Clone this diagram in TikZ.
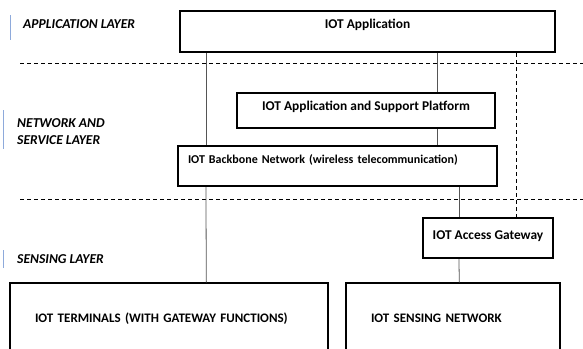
\documentclass[tikz,border=0pt]{standalone}
\usepackage{fontspec}
\setmainfont{Carlito}
\definecolor{barblue}{HTML}{8EAADB}
\definecolor{linkgray}{HTML}{555555}
\tikzset{
  box/.style={draw, line width=2.2pt, fill=white, inner sep=0pt, font=\bfseries\fontsize{13.4}{15}\selectfont},
  thinbox/.style={draw, line width=1.3pt, fill=white, inner sep=0pt, font=\bfseries\fontsize{13}{15}\selectfont},
  layer/.style={inner sep=0pt, anchor=base west, align=left, font=\bfseries\itshape\fontsize{13.6}{17}\selectfont},
  link/.style={linkgray, line width=0.8pt},
  sep/.style={black, line width=0.6pt, dash pattern=on 4pt off 3pt},
}
\begin{document}
\begin{tikzpicture}[x=1pt,y=-1pt]
  \useasboundingbox (0,0) rectangle (583,348);
  \clip (0,0) rectangle (583,348);

  % layer separators
  \draw[sep] (20,63) -- (583,63);
  \draw[sep] (20,199) -- (583,199);

  % layer names
  \draw[barblue, line width=1pt] (10,15) -- (10,40);
  \draw[barblue, line width=1pt] (3,110) -- (3,149);
  \draw[barblue, line width=1pt] (3,250) -- (3,268);
  \node[layer] (lapp) at (23,28) {APPLICATION LAYER};
  \node[layer] (lnet) at (17,144) {NETWORK AND\\SERVICE LAYER};
  \node[layer] (lsense) at (17,263) {SENSING LAYER};

  % boxes
  \node[box, minimum width=375pt, text height=17pt, text depth=24pt] (app) at (367.5,31.5) {IOT Application};
  \node[box, minimum width=258pt, text height=17pt, text depth=18pt] (plat) at (366,110.5) {IOT Application and Support Platform};
  \node[box, font=\bfseries\fontsize{12}{14}\selectfont, text width=299pt, inner xsep=10pt, align=left, text height=17pt, text depth=23pt] (bbone) at (337.5,166) {IOT Backbone Network (wireless telecommunication)};
  \node[box, minimum width=130pt, text height=21pt, text depth=19pt] (gw) at (488,238) {IOT Access Gateway};
  \node[thinbox, text width=268pt, inner xsep=25pt, align=left, text height=39pt, text depth=38pt] (term) at (169,321.5) {IOT TERMINALS (WITH GATEWAY FUNCTIONS)};
  \node[thinbox, text width=164pt, inner xsep=25pt, align=left, text height=39pt, text depth=38pt] (sens) at (453,321.5) {IOT SENSING NETWORK};

  % connections
  \draw[link] ([xshift=27pt]app.south west) -- ([xshift=29pt]bbone.north west);
  \draw[link] ([xshift=29pt]bbone.south west) -- ([xshift=197pt]term.north west);
  \draw[link] ([xshift=258pt]app.south west) -- ([xshift=201pt]plat.north west);
  \draw[link] ([xshift=201pt]plat.south west) -- ([xshift=260pt]bbone.north west);
  \draw[link] ([xshift=282pt]bbone.south west) -- ([xshift=37pt]gw.north west);
  \draw[link] ([xshift=37pt]gw.south west) -- ([xshift=114pt]sens.north west);
  \draw[sep] ([xshift=337pt]app.south west) -- ([xshift=94pt]gw.north west);
\end{tikzpicture}
\end{document}
